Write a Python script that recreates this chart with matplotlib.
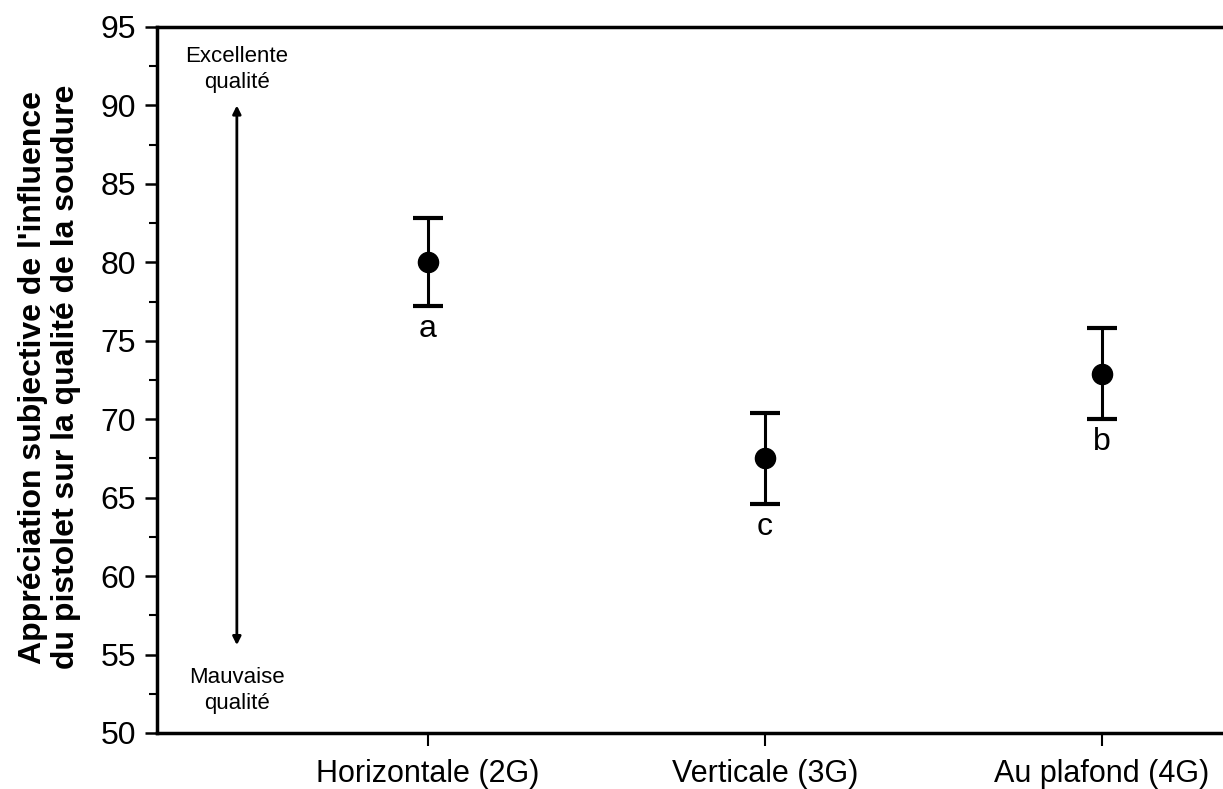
import numpy as np
import matplotlib
matplotlib.use("Agg")
import matplotlib.pyplot as plt
from matplotlib.ticker import MultipleLocator

plt.rcParams["font.family"] = ["Liberation Sans", "DejaVu Sans"]

positions = ["Horizontale (2G)", "Verticale (3G)", "Au plafond (4G)"]
means = [80.0, 67.5, 72.9]
errors = [2.8, 2.9, 2.9]
letters = ["a", "c", "b"]

g_ylabel = "Appréciation subjective de l'influence\ndu pistolet sur la qualité de la soudure"
g_ylim = [50, 95]
g_xlim = [0.196, 3.36]


def main():
    fig = plt.figure(figsize=(12.23, 7.89), dpi=100)
    ax = fig.add_axes([157 / 1223, 1 - 733 / 789, 1 - 157 / 1223, (733 - 27) / 789])

    x = np.arange(1, len(positions) + 1)
    ax.errorbar(x, means, yerr=errors, fmt="o", color="black", markersize=14.5,
                elinewidth=2.2, capsize=11, capthick=3, zorder=3)

    for xi, m, e, l in zip(x, means, errors, letters):
        ax.text(xi, m - e - 0.5, l, ha="center", va="top", fontsize=23)

    # quality arrow
    ax_x = 0.433
    ax.annotate("", xy=(ax_x, 90.0), xytext=(ax_x, 55.6),
                arrowprops=dict(arrowstyle="<|-|>", color="black", lw=2.0,
                                mutation_scale=12, shrinkA=0, shrinkB=0))
    ax.text(ax_x, 92.3, "Excellente\nqualité", ha="center", va="center",
            fontsize=16, linespacing=1.3)
    ax.text(ax_x, 52.7, "Mauvaise\nqualité", ha="center", va="center",
            fontsize=16, linespacing=1.3)

    ax.set_xlim(g_xlim)
    ax.set_ylim(g_ylim)
    ax.set_xticks(x)
    ax.set_xticklabels(positions, fontsize=22)
    ax.yaxis.set_major_locator(MultipleLocator(5))
    ax.yaxis.set_minor_locator(MultipleLocator(2.5))
    ax.tick_params(axis="y", which="major", labelsize=23, length=9, width=1.8, direction="out", pad=6)
    ax.tick_params(axis="y", which="minor", length=6, width=1.5, direction="out")
    ax.tick_params(axis="x", length=9, width=1.5, direction="out", pad=10)
    ax.set_ylabel(g_ylabel, fontsize=23, fontweight="bold", linespacing=1.15)
    ax.yaxis.set_label_coords(-0.071, 0.504)

    ax.spines["right"].set_visible(False)
    for s in ["left", "bottom", "top"]:
        ax.spines[s].set_linewidth(2.5)

    plt.savefig("out.png", dpi=100)


if __name__ == "__main__":
    main()
